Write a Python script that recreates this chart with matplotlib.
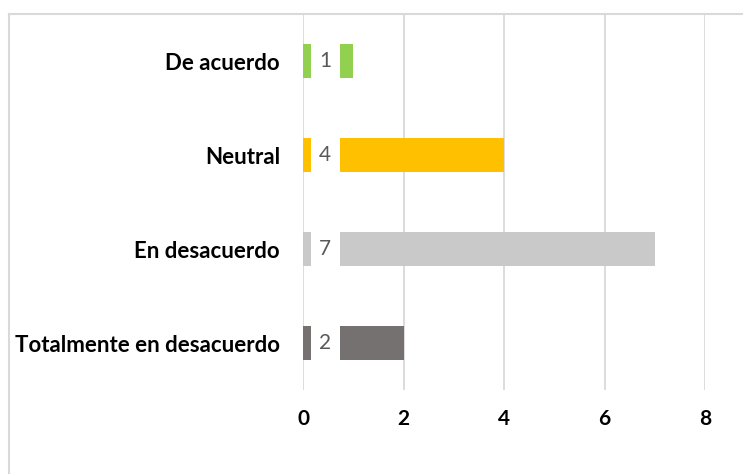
import matplotlib.pyplot as plt
from matplotlib.lines import Line2D
from matplotlib.patches import Rectangle

categorias = ["Totalmente en desacuerdo", "En desacuerdo", "Neutral", "De acuerdo"]
valores = [2, 7, 4, 1]
colores = ["#767171", "#c9c9c9", "#ffc000", "#92d050"]
xticks = [0, 2, 4, 6, 8]

plt.rcParams["font.family"] = ["Lato", "DejaVu Sans"]

W, H = 743, 474
fig = plt.figure(figsize=(W / 100, H / 100), dpi=100)
x0, x1, ytop, ybot = 303, 705, 14, 390
ax = fig.add_axes([x0 / W, 1 - ybot / H, (x1 - x0) / W, (ybot - ytop) / H])

pos = list(range(len(categorias)))
ax.barh(pos, valores, height=0.36, color=colores, zorder=2)

# etiqueta de datos con clave de leyenda (estilo Excel)
upx = 8 / (x1 - x0)
for y, v in zip(pos, valores):
    ax.add_patch(Rectangle((8 * upx, y - 0.2), 29 * upx, 0.4,
                           facecolor="white", edgecolor="none", zorder=3))
    ax.text(22 * upx, y, str(v), ha="center", va="center",
            fontsize=15, color="#595959", zorder=4)

ax.set_xlim(0, 8)
ax.set_ylim(-0.5, len(categorias) - 0.5)
ax.set_xticks(xticks)
ax.set_xticklabels([str(t) for t in xticks], fontweight="bold", fontsize=15)
ax.set_yticks(pos)
ax.set_yticklabels(categorias, fontweight="bold", fontsize=16)
ax.tick_params(axis="x", length=0, pad=14)
ax.tick_params(axis="y", length=0, pad=16.5)
ax.grid(axis="x", color="#d9d9d9", linewidth=1.3, zorder=0)
ax.set_axisbelow(True)
for s in ax.spines.values():
    s.set_visible(False)

# borde del área del gráfico
fig.add_artist(Line2D([9 / W, 1], [1 - 14 / H, 1 - 14 / H], color="#d9d9d9", linewidth=1.5))
fig.add_artist(Line2D([9 / W, 9 / W], [0, 1 - 14 / H], color="#d9d9d9", linewidth=1.5))

fig.savefig("out.png", dpi=100, facecolor="white")
